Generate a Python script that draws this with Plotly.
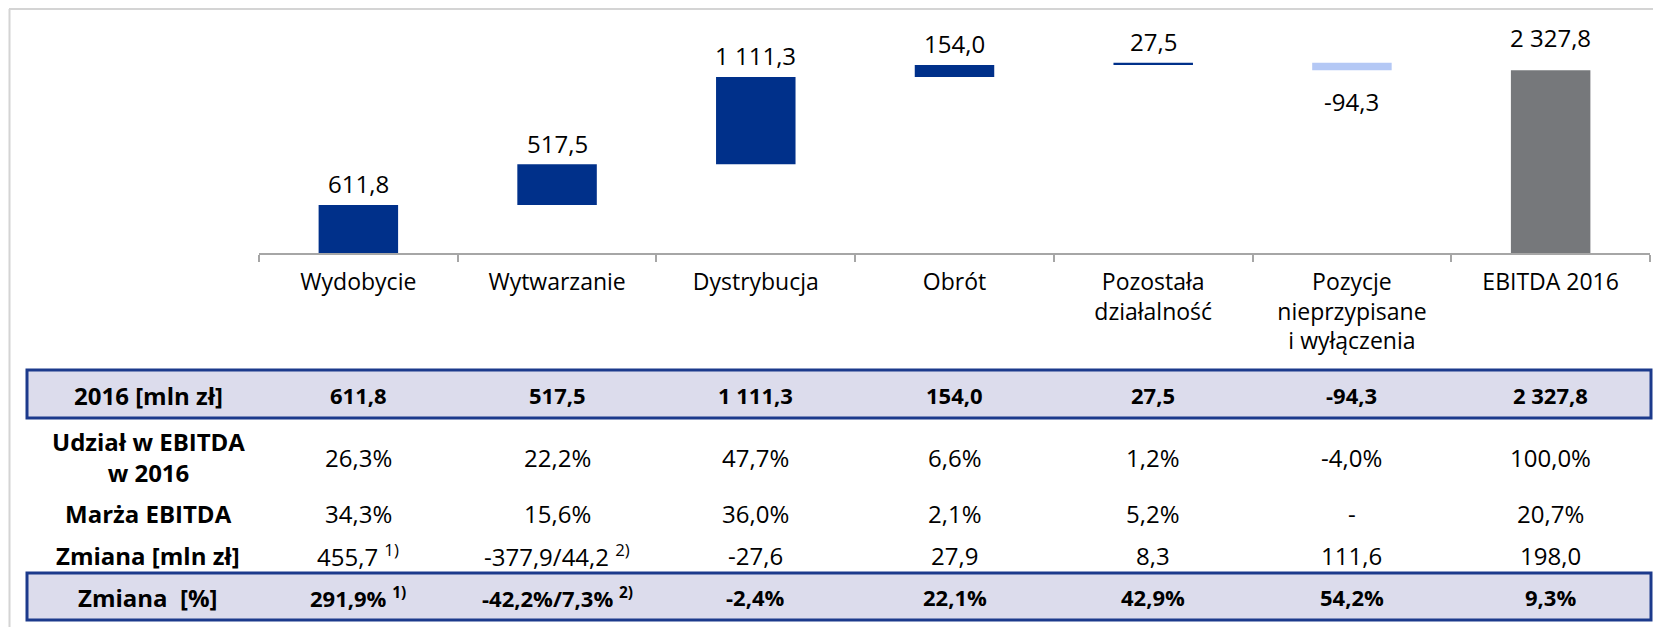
import plotly.graph_objects as go

# ---------------- data ----------------
categories = ["Wydobycie", "Wytwarzanie", "Dystrybucja", "Obrót",
              "Pozostała<br>działalność", "Pozycje<br>nieprzypisane<br>i wyłączenia",
              "EBITDA 2016"]
values = [611.8, 517.5, 1111.3, 154.0, 27.5, -94.3, 2327.8]
measures = ["relative", "relative", "relative", "relative", "relative", "relative", "total"]

row_labels = ["2016 [mln zł]", "Udział w EBITDA<br>w 2016", "Marża EBITDA",
              "Zmiana [mln zł]", "Zmiana  [%]"]
share_pct = ["26,3%", "22,2%", "47,7%", "6,6%", "1,2%", "-4,0%", "100,0%"]
margin_pct = ["34,3%", "15,6%", "36,0%", "2,1%", "5,2%", "-", "20,7%"]
change_mln = ["455,7 <sup>1)</sup>", "-377,9/44,2 <sup>2)</sup>", "-27,6", "27,9",
              "8,3", "111,6", "198,0"]
change_pct = ["291,9% <sup>1)</sup>", "-42,2%/7,3% <sup>2)</sup>", "-2,4%", "22,1%",
              "42,9%", "54,2%", "9,3%"]

# ---------------- layout constants ----------------
W, H = 1661, 627
OFF = 8  # page body margin: page pixel -> figure pixel
FONT = "Open Sans"
NAVY = "#00308a"
LIGHT = "#b4c8f5"
GREY_BAR = "#76787b"
BOX_FILL = "#dcdcec"
BOX_LINE = "#1c3a8c"
AXIS_GREY = "#a6a6a6"

px_left, px_right = 259 - OFF, 1650 - OFF
px_axis, px_top = 253 - OFF, 15 - OFF
units_per_px = 12.73


def fmt(v):
    return f"{v:,.1f}".replace(",", " ").replace(".", ",")


def py(pix):
    """page pixel (y) -> paper coordinate"""
    return 1 - (pix - OFF) / H


def pxp(pix):
    """page pixel (x) -> paper coordinate"""
    return (pix - OFF) / W


fig = go.Figure()
fig.add_trace(go.Waterfall(
    x=categories, y=values, measure=measures,
    increasing=dict(marker=dict(color=NAVY)),
    decreasing=dict(marker=dict(color=LIGHT)),
    totals=dict(marker=dict(color=GREY_BAR)),
    connector=dict(visible=False),
    hoverinfo="skip",
))

annotations = []
# bar value labels
cum = 0.0
for cat, v, m in zip(categories, values, measures):
    if m == "total":
        end, shift = v, 24 + 9
    else:
        cum += v
        end = cum
        shift = (12 + 9) if v >= 0 else -(22 + 9)
    annotations.append(dict(x=cat, y=end, xref="x", yref="y", text=fmt(v),
                            showarrow=False, yanchor="middle", yshift=shift,
                            font=dict(family=FONT, size=24, color="#000")))

# table
row_pix = [395, 457, 513, 555, 597]
label_x = pxp(148)
rows = [[fmt(v) for v in values], share_pct, margin_pct, change_mln, change_pct]
bold_rows = [True, False, False, False, True]
for lab, yp, cells, b in zip(row_labels, row_pix, rows, bold_rows):
    annotations.append(dict(x=label_x, y=py(yp), xref="paper", yref="paper", text=lab,
                            showarrow=False, xanchor="center", yanchor="middle",
                            font=dict(family=FONT, size=24, color="#000", weight="bold")))
    for cat, c in zip(categories, cells):
        annotations.append(dict(x=cat, y=py(yp), xref="x", yref="paper", text=c,
                                showarrow=False, xanchor="center", yanchor="middle",
                                font=dict(family=FONT, size=24 if not b else 22,
                                          color="#000",
                                          weight="bold" if b else "normal")))

shapes = [
    # outer frame (top and left edges)
    dict(type="line", xref="paper", yref="paper", x0=pxp(9), x1=1, y0=py(9), y1=py(9),
         line=dict(color="#d4d4d4", width=2)),
    dict(type="line", xref="paper", yref="paper", x0=pxp(9.5), x1=pxp(9.5), y0=py(9), y1=0,
         line=dict(color="#d4d4d4", width=2)),
    # table highlight boxes
    dict(type="rect", xref="paper", yref="paper", x0=pxp(27), x1=pxp(1651),
         y0=py(418), y1=py(370), fillcolor=BOX_FILL, line=dict(color=BOX_LINE, width=3),
         layer="below"),
    dict(type="rect", xref="paper", yref="paper", x0=pxp(27), x1=pxp(1651),
         y0=py(620), y1=py(573), fillcolor=BOX_FILL, line=dict(color=BOX_LINE, width=3),
         layer="below"),
]

fig.update_layout(
    width=W, height=H,
    margin=dict(l=0, r=0, t=0, b=0),
    paper_bgcolor="white", plot_bgcolor="rgba(0,0,0,0)",
    showlegend=False,
    waterfallgap=0.6,
    font=dict(family=FONT, color="#000"),
    xaxis=dict(domain=[px_left / W, px_right / W], type="category",
               range=[-0.5, len(categories) - 0.5],
               tickson="boundaries", ticks="outside", ticklen=7, tickwidth=1.5,
               tickcolor=AXIS_GREY, showline=True, linecolor=AXIS_GREY, linewidth=2,
               showgrid=False, zeroline=False, fixedrange=True,
               ticklabelstandoff=7,
               tickfont=dict(family=FONT, size=23, color="#000")),
    yaxis=dict(domain=[1 - px_axis / H, 1 - px_top / H],
               range=[0, (px_axis - px_top) * units_per_px],
               visible=False, showgrid=False, zeroline=False, fixedrange=True),
    annotations=annotations,
    shapes=shapes,
)

fig.write_html("out.html")
